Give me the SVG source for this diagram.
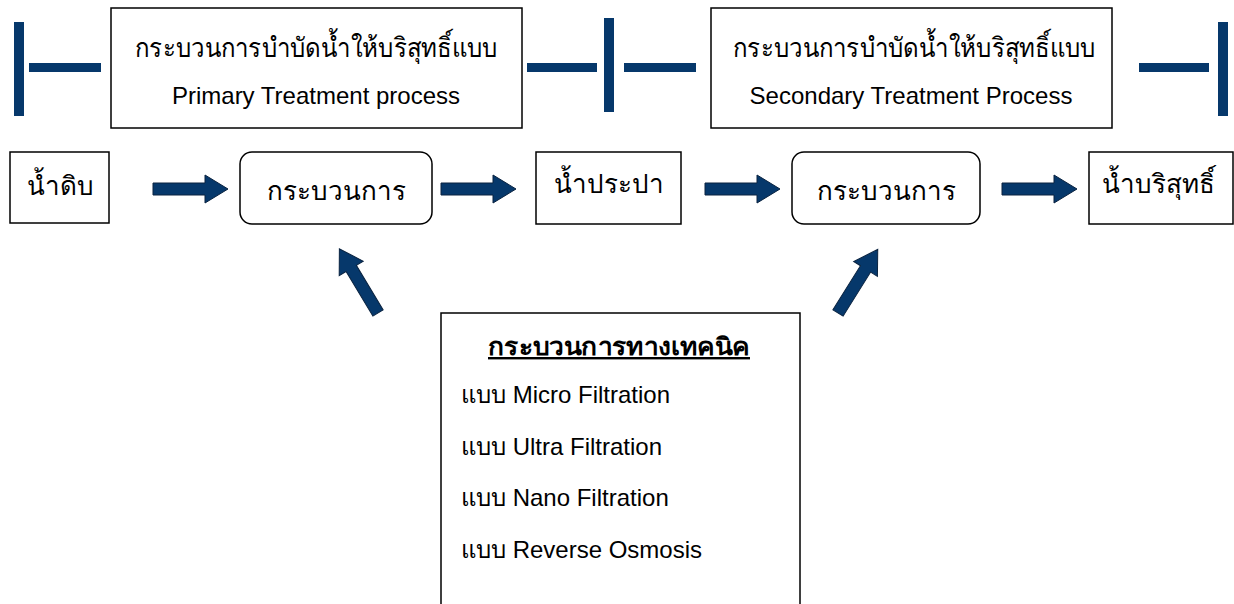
<svg xmlns="http://www.w3.org/2000/svg" width="1234" height="604" viewBox="0 0 1234 604">
<defs>
<style>
.box{fill:#fff;stroke:#000;stroke-width:1.5}
.bar{fill:#06386b}
.arr{fill:#06386b;stroke:#0a2340;stroke-width:1}
.th{font-family:"Liberation Sans","Noto Sans",sans-serif;fill:#000}
.en{font-family:"Liberation Sans",Arial,sans-serif;fill:#000}
</style>
<path id="arrow" d="M0,-6 L52,-6 L52,-14 L75,0 L52,14 L52,6 L0,6 Z"/>
</defs>
<rect width="1234" height="604" fill="#fff"/>

<g id="brackets">
<rect class="bar" x="14" y="22" width="10" height="94"/>
<rect class="bar" x="29" y="63" width="72" height="9"/>
<rect class="bar" x="527" y="63" width="70" height="9"/>
<rect class="bar" x="604" y="18" width="10" height="94"/>
<rect class="bar" x="624" y="63" width="72" height="9"/>
<rect class="bar" x="1139" y="63" width="70" height="9"/>
<rect class="bar" x="1218" y="22" width="10" height="94"/>
</g>

<g id="primary">
<rect class="box" x="111" y="8" width="411" height="120"/>
<text class="th" x="135" y="57" font-size="27" textLength="362" lengthAdjust="spacingAndGlyphs">กระบวนการบำบัดน้ำให้บริสุทธิ์แบบ</text>
<text class="en" x="316" y="104" font-size="24" text-anchor="middle">Primary Treatment process</text>
</g>

<g id="secondary">
<rect class="box" x="711" y="8" width="401" height="120"/>
<text class="th" x="733" y="57" font-size="27" textLength="362" lengthAdjust="spacingAndGlyphs">กระบวนการบำบัดน้ำให้บริสุทธิ์แบบ</text>
<text class="en" x="911" y="104" font-size="24" text-anchor="middle">Secondary Treatment Process</text>
</g>

<g id="raw">
<rect class="box" x="10" y="152" width="99" height="71"/>
<text class="th" x="60" y="195" font-size="26" text-anchor="middle">น้ำดิบ</text>
</g>

<g id="process1">
<rect class="box" x="240" y="152" width="192" height="72" rx="12"/>
<text class="th" x="336" y="200" font-size="26" text-anchor="middle">กระบวนการ</text>
</g>

<g id="tap">
<rect class="box" x="536" y="152" width="145" height="72"/>
<text class="th" x="609" y="193" font-size="26" text-anchor="middle">น้ำประปา</text>
</g>

<g id="process2">
<rect class="box" x="792" y="152" width="188" height="72" rx="12"/>
<text class="th" x="886" y="200" font-size="26" text-anchor="middle">กระบวนการ</text>
</g>

<g id="pure">
<rect class="box" x="1089" y="152" width="144" height="72"/>
<text class="th" x="1158" y="193" font-size="26" text-anchor="middle">น้ำบริสุทธิ์</text>
</g>

<g id="technical">
<rect class="box" x="441" y="313" width="359" height="300"/>
<text class="th" x="488" y="355" font-size="24" font-weight="bold" text-decoration="underline" textLength="262" lengthAdjust="spacingAndGlyphs">กระบวนการทางเทคนิค</text>
<text class="th" x="461" y="403" font-size="24">แบบ Micro Filtration</text>
<text class="th" x="461" y="455" font-size="24">แบบ Ultra Filtration</text>
<text class="th" x="461" y="506" font-size="24">แบบ Nano Filtration</text>
<text class="th" x="461" y="558" font-size="24">แบบ Reverse Osmosis</text>
</g>

<g id="connectors">
<use href="#arrow" class="arr" transform="translate(153,189)"/>
<use href="#arrow" class="arr" transform="translate(441,189)"/>
<use href="#arrow" class="arr" transform="translate(705,189)"/>
<use href="#arrow" class="arr" transform="translate(1002,189)"/>
<use href="#arrow" class="arr" transform="translate(378,313) rotate(-121)"/>
<use href="#arrow" class="arr" transform="translate(838,313) rotate(-58)"/>
</g>
</svg>
